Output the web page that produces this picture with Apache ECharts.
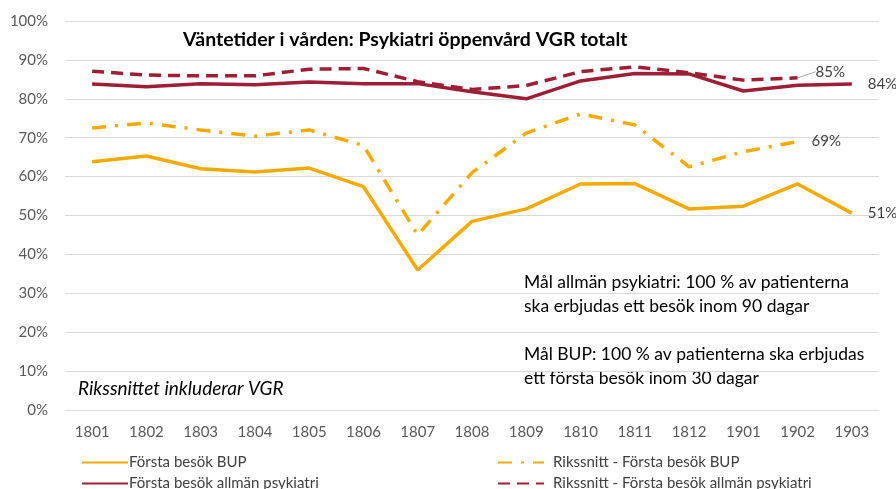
<!DOCTYPE html>
<html>
<head>
<meta charset="utf-8">
<script src="https://cdn.jsdelivr.net/npm/echarts@6/dist/echarts.min.js"></script>
<style>
  html, body { margin: 0; padding: 0; background: #fff; }
  #chart { width: 896px; height: 489px; }
</style>
</head>
<body>
<div id="chart"></div>
<script>
// månader (ÅÅMM)
var months = ['1801', '1802', '1803', '1804', '1805', '1806', '1807', '1808', '1809', '1810', '1811', '1812', '1901', '1902', '1903'];
// andel i procent
var bupVgr = [63.8, 65.3, 62.0, 61.2, 62.2, 57.4, 36.0, 48.5, 51.7, 58.1, 58.2, 51.7, 52.4, 58.1, 50.6];
var bupRiket = [72.5, 73.8, 72.0, 70.4, 72.0, 68.0, 45.0, 61.0, 71.2, 76.1, 73.3, 62.5, 66.4, 69.0, null];
var allmanVgr = [83.8, 83.1, 83.9, 83.6, 84.3, 83.9, 83.9, 81.8, 80.0, 84.6, 86.5, 86.4, 82.0, 83.5, 83.8];
var allmanRiket = [87.1, 86.1, 85.9, 85.9, 87.6, 87.8, 84.4, 82.4, 83.4, 87.0, 88.2, 86.7, 84.8, 85.4, null];

var gul = '#F4AA00';
var rod = '#9C1F35';
var font = 'Lato';

// visa etikett bara på sista punkten
function lastLabel(arr) {
  var last = -1;
  arr.forEach(function (v, i) { if (v != null) last = i; });
  return arr.map(function (v, i) {
    return i === last ? { value: v, label: { show: true } } : v;
  });
}

function pct(p) { return Math.round(p.value) + '%'; }

function legendFor(name, left, top, pad) {
  return {
    left: left, top: top, itemWidth: 46, itemHeight: 10,
    itemStyle: { opacity: 0 },
    textStyle: { color: '#404040', fontSize: 15, padding: [0, 0, 0, pad], fontFamily: font },
    data: [name]
  };
}

var chart = echarts.init(document.getElementById('chart'));
var option = {
  animation: false,
  textStyle: { fontFamily: font },
  grid: { left: 65, right: 17, top: 21, bottom: 79 },
  xAxis: {
    type: 'category',
    data: months,
    axisLine: { show: true, lineStyle: { color: '#D9D9D9' } },
    axisTick: { show: false },
    axisLabel: { color: '#595959', fontSize: 15, margin: 15, fontFamily: font }
  },
  yAxis: {
    type: 'value',
    min: 0, max: 100, interval: 10,
    axisLabel: { color: '#595959', fontSize: 15, margin: 17, formatter: '{value}%', fontFamily: font },
    splitLine: { lineStyle: { color: '#D9D9D9' } }
  },
  legend: [
    legendFor('Första besök BUP', 76, 450, -4),
    legendFor('Första besök allmän psykiatri', 76, 471, -4),
    legendFor('Rikssnitt - Första besök BUP', 492, 450, 4),
    legendFor('Rikssnitt - Första besök allmän psykiatri', 492, 471, 4)
  ],
  series: [{
    name: 'Första besök BUP', type: 'line', symbol: 'circle', symbolSize: 0.01, showSymbol: true,
    lineStyle: { color: gul, width: 3.5 }, itemStyle: { color: gul },
    label: { position: 'right', distance: 16, color: '#404040', fontSize: 15, fontFamily: font, formatter: pct },
    data: lastLabel(bupVgr)
  }, {
    name: 'Rikssnitt - Första besök BUP', type: 'line', symbol: 'circle', symbolSize: 0.01, showSymbol: true,
    lineStyle: { color: gul, width: 3.5, type: [14, 9, 3, 9] }, itemStyle: { color: gul },
    label: { position: 'right', distance: 14, color: '#404040', fontSize: 15, fontFamily: font, formatter: pct },
    data: lastLabel(bupRiket)
  }, {
    name: 'Första besök allmän psykiatri', type: 'line', symbol: 'circle', symbolSize: 0.01, showSymbol: true,
    lineStyle: { color: rod, width: 3.5 }, itemStyle: { color: rod },
    label: { position: 'right', distance: 16, color: '#404040', fontSize: 15, fontFamily: font, formatter: pct },
    data: lastLabel(allmanVgr)
  }, {
    name: 'Rikssnitt - Första besök allmän psykiatri', type: 'line', symbol: 'circle', symbolSize: 0.01, showSymbol: true,
    lineStyle: { color: rod, width: 3.5, type: [12, 7] }, itemStyle: { color: rod },
    label: { position: 'right', distance: 4, color: '#404040', fontSize: 15, fontFamily: font, formatter: pct },
    labelLine: { show: true, lineStyle: { color: '#A6A6A6', width: 1 } },
    labelLayout: { dx: 14, dy: -6 },
    data: lastLabel(allmanRiket)
  }],
  graphic: [{
    type: 'text', left: 183, top: 30,
    style: { text: 'Väntetider i vården: Psykiatri öppenvård VGR totalt', fontSize: 19.5, fontWeight: 'bold', fill: '#000', fontFamily: font }
  }, {
    type: 'text', left: 78, top: 379,
    style: { text: 'Rikssnittet inkluderar VGR', fontSize: 19, fontStyle: 'italic', fill: '#000', fontFamily: font }
  }, {
    type: 'text', left: 524, top: 270,
    style: { text: 'Mål allmän psykiatri: 100 % av patienterna\nska erbjudas ett besök inom 90 dagar', fontSize: 17.5, lineHeight: 24, fill: '#000', fontFamily: font }
  }, {
    type: 'text', left: 524, top: 342,
    style: { text: 'Mål BUP: 100 % av patienterna ska erbjudas\nett första besök inom 30 dagar', fontSize: 17.5, lineHeight: 24, fill: '#000', fontFamily: font }
  }]
};
chart.setOption(option);
</script>
</body>
</html>
